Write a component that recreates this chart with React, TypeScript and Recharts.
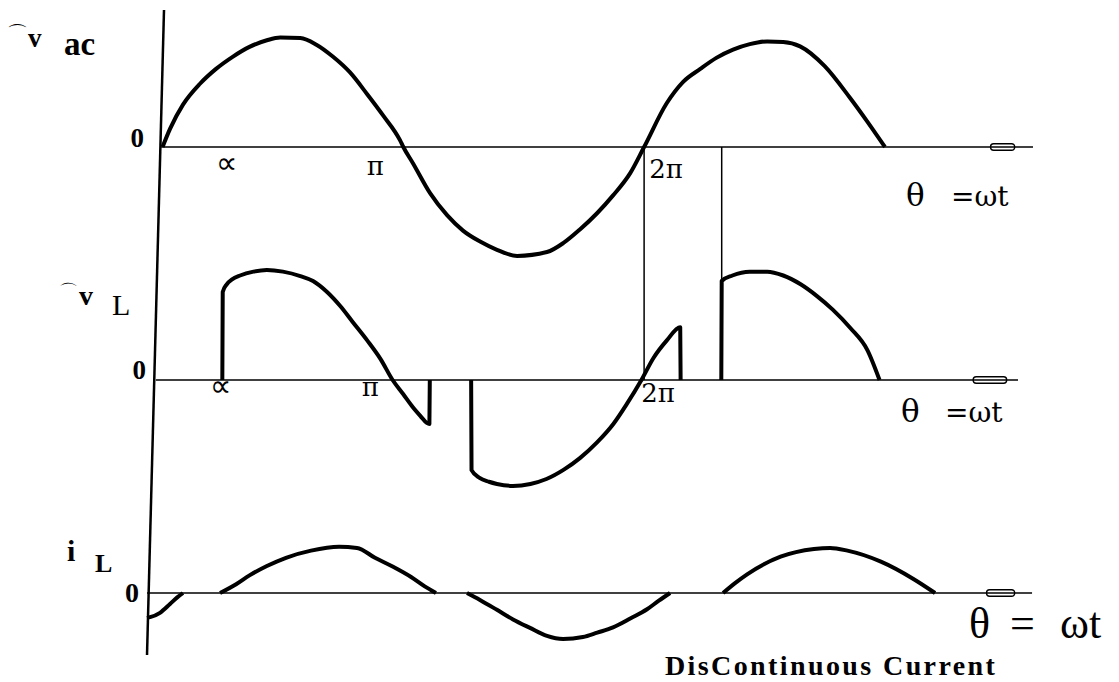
import React from 'react';
import {
  LineChart,
  Line,
  XAxis,
  YAxis,
  ReferenceLine,
  ReferenceArea,
  ReferenceDot,
  Customized,
} from 'recharts';

// Single-phase AC voltage controller, discontinuous load current.
// Angles are electrical degrees (theta = wt); values are per-unit of the supply peak.
// A null value ends a stroke: intervals where a trace sits at zero are left to the axis line.

const supplyVoltage: [number, number | null][] = [
  [0, 0], [5.6, 0.165], [15.3, 0.385], [28, 0.575], [40, 0.71], [52.7, 0.822],
  [65, 0.91], [78, 0.97], [88, 0.995], [103, 0.99], [115, 0.93], [127.5, 0.82],
  [140, 0.68], [153, 0.48], [165, 0.285], [177.6, 0.06], [180, 0],
  [187.3, -0.15], [200, -0.42], [212.7, -0.62], [224.6, -0.76], [237.4, -0.86],
  [250, -0.935], [265, -0.99], [287.4, -0.955], [300, -0.87], [312, -0.75],
  [325, -0.6], [336.8, -0.44], [349.5, -0.24], [360, 0],
  [377, 0.4], [389, 0.59], [402, 0.71], [414, 0.81], [426.5, 0.885],
  [439, 0.935], [452, 0.96], [464, 0.955], [476.6, 0.915], [495, 0.735],
  [514, 0.445], [526.6, 0.235], [540, 0],
];

const loadVoltage: [number, number | null][] = [
  [44.7, 0], [45, 0.8], [48, 0.87], [52, 0.915], [58, 0.95], [68, 0.985],
  [78, 1.0], [90, 0.985], [103, 0.945], [112.5, 0.9], [123, 0.8], [133, 0.67],
  [142, 0.53], [153, 0.36], [163, 0.19], [172, 0], [180, -0.13], [187, -0.245],
  [193, -0.33], [197.5, -0.39], [199.5, -0.4], [199.8, 0],
  [215, null],
  [230.7, 0], [231, -0.82], [237, -0.89], [244, -0.925], [250, -0.945],
  [262, -0.963], [275, -0.945], [287, -0.9], [300, -0.815], [312, -0.71],
  [325, -0.565], [337, -0.4], [347, -0.22], [358, 0], [367, 0.2], [377, 0.36],
  [387, 0.48], [387.3, 0],
  [400, null],
  [417.7, 0], [418, 0.9], [426, 0.95], [439, 0.985], [452, 0.985], [464, 0.95],
  [477, 0.87], [489, 0.765], [501, 0.64], [514, 0.475], [527, 0.27], [536, 0],
];

const loadCurrent: [number, number | null][] = [
  [-11.6, -0.227], [-9.3, -0.22], [-1.9, -0.18], [5.6, -0.1], [11, -0.04], [15.3, 0],
  [30, null],
  [43, 0], [55, 0.08], [65, 0.16], [78, 0.245], [92.3, 0.32], [111, 0.385],
  [132, 0.42], [145.4, 0.41], [158.8, 0.32], [172, 0.24], [185.8, 0.145],
  [196, 0.06], [204.4, 0],
  [215, null],
  [227.6, 0], [237.3, -0.063], [250, -0.153], [262, -0.24], [274.7, -0.317],
  [287.4, -0.39], [299.4, -0.418], [314.3, -0.4], [325, -0.36], [336.8, -0.313],
  [350, -0.23], [362.2, -0.148], [371, -0.07], [379.4, 0],
  [400, null],
  [419, 0], [428, 0.09], [437, 0.17], [462, 0.33], [487, 0.4], [499, 0.41],
  [512, 0.385], [537, 0.285], [561, 0.13], [577.5, 0],
];

// marked angles on the two voltage traces
const angleTicks = [45, 180, 360];
const angleTickLabels = ['∝', 'π', '2π'];

const toRows = (pts: [number, number | null][]) => pts.map(([deg, v]) => ({ deg, v }));

const W = 1119;
const H = 682;
const UNIT_PX = 110;
const SERIF = "'Liberation Serif', 'DejaVu Serif', serif";
const SYMBOL_SERIF = "'DejaVu Serif', serif";

// each trace gets its own y axis so its zero line sits at the given pixel row
const panelDomain = (zeroRow: number): [number, number] => [
  -(H - zeroRow) / UNIT_PX,
  zeroRow / UNIT_PX,
];

const tickLabel = (text: string, dx: number, dy: number) => (props: any) => {
  const vb = props.viewBox || { x: 0, y: 0 };
  const isAlpha = text === '∝';
  return (
    <text
      x={vb.x + dx}
      y={vb.y + dy}
      textAnchor="middle"
      fontFamily={isAlpha ? "'DejaVu Sans', sans-serif" : SYMBOL_SERIF}
      fontSize={isAlpha ? 30 : 26}
      fill="#000"
    >
      {text}
    </text>
  );
};

const nudgeTop = [[4, 26], [-28, 28], [22, 31]];
const nudgeMid = [[-2, 16], [-33, 16], [14, 22]];

function Annotations() {
  return (
    <g fontFamily={SERIF} fill="#000">
      <text x={17} y={41} fontSize={21} textAnchor="middle" fontFamily="'DejaVu Sans'">⌒</text>
      <text x={28} y={47} fontSize={27} fontWeight="bold">v</text>
      <text x={64} y={55} fontSize={33} fontWeight="bold">ac</text>
      <text x={144} y={147} fontSize={27} fontWeight="bold" textAnchor="end">0</text>
      <text y={206} fontFamily={SYMBOL_SERIF} fontSize={28}>
        <tspan x={906} fontSize={31}>θ</tspan>
        <tspan x={951}>=ωt</tspan>
      </text>

      <text x={68} y={298} fontSize={19} textAnchor="middle" fontFamily="'DejaVu Sans'">⌒</text>
      <text x={79} y={305} fontSize={28} fontWeight="bold">v</text>
      <text x={112} y={315} fontSize={30}>L</text>
      <text x={146} y={379} fontSize={27} fontWeight="bold" textAnchor="end">0</text>
      <text y={422} fontFamily={SYMBOL_SERIF} fontSize={28}>
        <tspan x={901} fontSize={31}>θ</tspan>
        <tspan x={945}>=ωt</tspan>
      </text>

      <text x={67} y={561} fontSize={30} fontWeight="bold">i</text>
      <text x={95} y={572} fontSize={26} fontWeight="bold">L</text>
      <text x={139} y={602} fontSize={28} fontWeight="bold" textAnchor="end">0</text>
      <text y={638} fontSize={44}>
        <tspan x={969}>θ</tspan>
        <tspan x={1010}>=</tspan>
        <tspan x={1060}>ωt</tspan>
      </text>
      <text x={665} y={675} fontSize={28} fontWeight="bold" letterSpacing={2.4}>
        DisContinuous Current
      </text>
    </g>
  );
}

export default function App() {
  const ink = '#000';
  return (
    <div style={{ position: 'absolute', left: 0, top: 0, width: W, height: H, background: '#fff' }}>
      <LineChart width={W} height={H} margin={{ top: 0, right: 0, bottom: 0, left: 2 }}>
        <XAxis type="number" dataKey="deg" domain={[-120, 715]} hide allowDataOverflow />
        <YAxis yAxisId="vac" type="number" domain={panelDomain(147)} hide allowDataOverflow />
        <YAxis yAxisId="vl" type="number" domain={panelDomain(380)} hide allowDataOverflow />
        <YAxis yAxisId="il" type="number" domain={panelDomain(593)} hide allowDataOverflow />

        {/* common vertical axis */}
        <ReferenceLine
          yAxisId="vac"
          segment={[{ x: 1.1, y: 1.245 }, { x: -11.6, y: -4.618 }]}
          stroke={ink}
          strokeWidth={2.5}
        />

        {/* theta axes */}
        <ReferenceLine yAxisId="vac" segment={[{ x: -1, y: 0 }, { x: 650.7, y: 0 }]} stroke={ink} strokeWidth={1.5} />
        <ReferenceLine yAxisId="vl" segment={[{ x: -5, y: 0 }, { x: 639.5, y: 0 }]} stroke={ink} strokeWidth={1.5} />
        <ReferenceLine yAxisId="il" segment={[{ x: -11.6, y: 0 }, { x: 650, y: 0 }]} stroke={ink} strokeWidth={1.5} />
        <ReferenceArea yAxisId="vac" x1={619} x2={637} y1={-0.03} y2={0.03} fill="#fff" fillOpacity={1} stroke={ink} strokeWidth={1.4} radius={3} />
        <ReferenceArea yAxisId="vl" x1={606} x2={631} y1={-0.03} y2={0.03} fill="#fff" fillOpacity={1} stroke={ink} strokeWidth={1.4} radius={3} />
        <ReferenceArea yAxisId="il" x1={616} x2={637} y1={-0.03} y2={0.03} fill="#fff" fillOpacity={1} stroke={ink} strokeWidth={1.4} radius={3} />

        {/* drop lines at 2π and 2π + α */}
        <ReferenceLine yAxisId="vac" segment={[{ x: 360, y: 0 }, { x: 360, y: -2.118 }]} stroke={ink} strokeWidth={1.5} />
        <ReferenceLine yAxisId="vac" segment={[{ x: 418, y: 0 }, { x: 418, y: -2.118 }]} stroke={ink} strokeWidth={1.5} />

        {angleTicks.map((a, i) => (
          <ReferenceDot
            key={`top-${a}`}
            yAxisId="vac"
            x={a}
            y={0}
            r={0}
            fill="none"
            stroke="none"
            label={tickLabel(angleTickLabels[i], nudgeTop[i][0], nudgeTop[i][1])}
          />
        ))}
        {angleTicks.map((a, i) => (
          <ReferenceDot
            key={`mid-${a}`}
            yAxisId="vl"
            x={a}
            y={0}
            r={0}
            fill="none"
            stroke="none"
            label={tickLabel(angleTickLabels[i], nudgeMid[i][0], nudgeMid[i][1])}
          />
        ))}

        <Line
          yAxisId="vac"
          data={toRows(supplyVoltage)}
          dataKey="v"
          type="monotoneX"
          stroke={ink}
          strokeWidth={4}
          dot={false}
          isAnimationActive={false}
        />
        <Line
          yAxisId="vl"
          data={toRows(loadVoltage)}
          dataKey="v"
          type="monotoneX"
          stroke={ink}
          strokeWidth={4}
          strokeLinejoin="round"
          dot={false}
          isAnimationActive={false}
        />
        <Line
          yAxisId="il"
          data={toRows(loadCurrent)}
          dataKey="v"
          type="monotoneX"
          stroke={ink}
          strokeWidth={4}
          dot={false}
          isAnimationActive={false}
        />

        <Customized component={Annotations} />
      </LineChart>
    </div>
  );
}
